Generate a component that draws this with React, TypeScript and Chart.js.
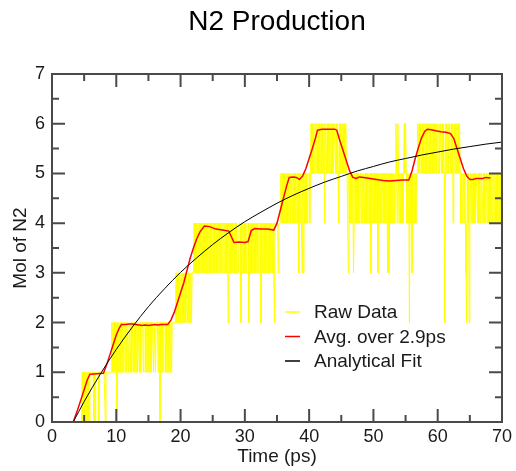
import React, { useEffect, useRef } from 'react';
import { Chart, registerables } from 'chart.js';

Chart.register(...registerables);

// ---------------- data ----------------
const chartTitle = 'N2 Production';
const xAxisTitle = 'Time (ps)';
const yAxisTitle = 'Mol of N2';
const seriesNames = ['Raw Data', 'Avg. over 2.9ps', 'Analytical Fit'];
const seriesColors = ['#ffff00', '#ff0000', '#000000'];

const xMin = 0;
const xMax = 70;
const xStep = 10;
const yMin = 0;
const yMax = 7;
const yStep = 1;

// raw molecule count, one digit per sample, starting at rawStartTime, every rawTimeStep ps
const rawStartTime = 4.0;
const rawTimeStep = 0.1;
const rawLevelRows = [
  '00000001011010110101111110101111101111111110111111', // 4.0 - 8.9
  '11121212122021212121212212122122121221212121221212', // 9.0 - 13.9
  '22122212212122122212212221220221212221212212121222', // 14.0 - 18.9
  '22232323232232322323323232323334343434343434343434', // 19.0 - 23.9
  '43434343434434343434434343443434342434343434343433', // 24.0 - 28.9
  '34442434343434442343434343434343444243434343434343', // 29.0 - 33.9
  '43434324444434445454545454545454554545454545354543', // 34.0 - 38.9
  '53545454555456565656656565656656564665656565656566', // 39.0 - 43.9
  '65656546565656565655535454545345454545455454554545', // 44.0 - 48.9
  '45454535454545455354545455454545353454545454565465', // 49.0 - 53.9
  '45454545656545452545354545455656566565656565656656', // 54.0 - 58.9
  '56565656566565665656526565656656564565656565654545', // 59.0 - 63.9
  '54543254524545454545554545455445454554545454545545', // 64.0 - 68.9
  '45454545454',                                        // 69.0 - 70.0
];

// running average over 2.9 ps
const avgTime = [
  3.3, 4.0, 4.5, 5.0, 5.5, 5.9, 7.0, 8.0, 8.5, 9.0, 9.5, 10.0, 10.5, 10.8,
  11.5, 12.0, 12.5, 13.0, 13.5, 14.0, 14.5, 15.0, 15.5, 16.0, 16.5, 17.0, 17.5, 18.0,
  18.5, 19.0, 19.5, 20.0, 20.5, 21.0, 21.5, 22.0, 22.5, 23.0, 23.7, 24.5, 25.5, 26.5,
  27.5, 28.0, 28.3, 29.0, 30.0, 30.5, 31.0, 31.5, 32.5, 33.5, 34.5, 35.0, 35.5, 36.0,
  36.5, 36.9, 37.5, 38.0, 38.5, 39.0, 39.5, 40.0, 40.5, 41.0, 41.3, 42.0, 43.0, 44.0,
  44.3, 44.8, 45.3, 45.8, 46.3, 46.8, 47.3, 47.8, 48.5, 49.5, 50.5, 51.5, 52.5, 53.5,
  54.5, 55.5, 56.0, 56.5, 57.0, 57.5, 58.0, 58.4, 59.0, 59.7, 60.5, 61.3, 62.0, 62.5,
  63.0, 63.5, 64.0, 64.5, 65.0, 65.5, 66.0, 67.0, 67.5, 68.2,
];
const avgValue = [
  0, 0.25, 0.45, 0.65, 0.85, 0.96, 0.97, 0.98, 1.15, 1.35, 1.55, 1.75, 1.9, 1.96,
  1.96, 1.97, 1.97, 1.96, 1.95, 1.94, 1.95, 1.94, 1.95, 1.96, 1.95, 1.96, 1.96, 1.96,
  2.05, 2.2, 2.4, 2.6, 2.8, 3.05, 3.3, 3.5, 3.68, 3.82, 3.94, 3.93, 3.88, 3.86,
  3.84, 3.7, 3.61, 3.62, 3.61, 3.63, 3.85, 3.89, 3.88, 3.88, 3.86, 4.0, 4.25, 4.5,
  4.75, 4.92, 4.93, 4.92, 4.88, 4.95, 5.1, 5.3, 5.5, 5.72, 5.87, 5.89, 5.89, 5.89,
  5.87, 5.65, 5.45, 5.25, 5.05, 4.92, 4.9, 4.93, 4.92, 4.9, 4.88, 4.86, 4.85, 4.86,
  4.87, 4.87, 5.05, 5.3, 5.52, 5.72, 5.85, 5.89, 5.88, 5.86, 5.84, 5.83, 5.8, 5.7,
  5.5, 5.3, 5.1, 4.95, 4.88, 4.88, 4.9, 4.9, 4.92, 4.91,
];

// analytical fit curve
const fitTime = [
  3.3, 5, 7.5, 10, 12.5, 15, 17.5, 20, 22.5, 25, 27.5, 30, 32.5, 35,
  37.5, 40, 42.5, 45, 47.5, 50, 52.5, 55, 57.5, 60, 62.5, 65, 67.5, 70,
];
const fitValue = [
  0, 0.41, 0.96, 1.46, 1.91, 2.32, 2.68, 3.01, 3.3, 3.57, 3.81, 4.03, 4.22, 4.4,
  4.56, 4.7, 4.83, 4.94, 5.05, 5.14, 5.23, 5.3, 5.37, 5.43, 5.49, 5.54, 5.59, 5.63,
];

// ---------------- build library tables ----------------
const rawDigits = rawLevelRows.join('');
const rawPoints = Array.from(rawDigits).map((d, i) => ({
  x: +(rawStartTime + i * rawTimeStep).toFixed(2),
  y: Number(d),
}));
const avgPoints = avgTime.map((t, i) => ({ x: t, y: avgValue[i] }));
const fitPoints = fitTime.map((t, i) => ({ x: t, y: fitValue[i] }));

const FONT = '"Liberation Sans", Arial, Helvetica, sans-serif';
const AXIS_COLOR = '#4a4a4a';
const TEXT_COLOR = '#1a1a1a';

const framePlugin = {
  id: 'frameTicks',
  afterDatasetsDraw(chart: any) {
    const { ctx, chartArea: a, scales } = chart;
    const xs = scales.x;
    const ys = scales.y;
    ctx.save();
    ctx.strokeStyle = AXIS_COLOR;
    ctx.lineWidth = 2;
    ctx.strokeRect(a.left, a.top, a.right - a.left, a.bottom - a.top);
    const major = 13;
    const minor = 7;
    const xv = xs.ticks.map((t: any) => t.value);
    const yv = ys.ticks.map((t: any) => t.value);
    const drawX = (v: number, len: number) => {
      const p = xs.getPixelForValue(v);
      ctx.beginPath();
      ctx.moveTo(p, a.bottom);
      ctx.lineTo(p, a.bottom - len);
      ctx.moveTo(p, a.top);
      ctx.lineTo(p, a.top + len);
      ctx.stroke();
    };
    const drawY = (v: number, len: number) => {
      const p = ys.getPixelForValue(v);
      ctx.beginPath();
      ctx.moveTo(a.left, p);
      ctx.lineTo(a.left + len, p);
      ctx.moveTo(a.right, p);
      ctx.lineTo(a.right - len, p);
      ctx.stroke();
    };
    xv.forEach((v: number, i: number) => {
      drawX(v, major);
      if (i < xv.length - 1) drawX((v + xv[i + 1]) / 2, minor);
    });
    yv.forEach((v: number, i: number) => {
      drawY(v, major);
      if (i < yv.length - 1) drawY((v + yv[i + 1]) / 2, minor);
    });
    ctx.restore();
  },
};

const titleLegendPlugin = {
  id: 'titleLegend',
  afterDraw(chart: any) {
    const { ctx, chartArea: a } = chart;
    ctx.save();
    // title
    ctx.fillStyle = '#000';
    ctx.font = `28px ${FONT}`;
    ctx.textAlign = 'center';
    ctx.textBaseline = 'middle';
    ctx.fillText(chartTitle, (a.left + a.right) / 2, 22);
    // legend
    ctx.font = `19px ${FONT}`;
    ctx.textAlign = 'left';
    chart.data.datasets.forEach((ds: any, i: number) => {
      const y = a.top + 238 + i * 24.5;
      ctx.strokeStyle = ds.borderColor;
      ctx.lineWidth = 1.5;
      ctx.beginPath();
      ctx.moveTo(a.left + 233, y);
      ctx.lineTo(a.left + 248, y);
      ctx.stroke();
      ctx.fillStyle = TEXT_COLOR;
      ctx.fillText(ds.label, a.left + 262, y + 1);
    });
    ctx.restore();
  },
};

export default function App() {
  const canvasRef = useRef<HTMLCanvasElement>(null);

  useEffect(() => {
    document.body.style.margin = '0';
    const canvas = canvasRef.current;
    if (!canvas) return;
    const chart = new Chart(canvas, {
      type: 'line',
      data: {
        datasets: [
          {
            label: seriesNames[0],
            data: rawPoints,
            borderColor: seriesColors[0],
            backgroundColor: seriesColors[0],
            borderWidth: 1,
            borderJoinStyle: 'bevel',
            pointRadius: 0,
            tension: 0,
            order: 3,
          },
          {
            label: seriesNames[1],
            data: avgPoints,
            borderColor: seriesColors[1],
            backgroundColor: seriesColors[1],
            borderWidth: 1.5,
            pointRadius: 0,
            tension: 0,
            order: 2,
          },
          {
            label: seriesNames[2],
            data: fitPoints,
            borderColor: seriesColors[2],
            backgroundColor: seriesColors[2],
            borderWidth: 1,
            pointRadius: 0,
            cubicInterpolationMode: 'monotone',
            order: 1,
          },
        ],
      },
      options: {
        animation: false,
        responsive: false,
        devicePixelRatio: 1,
        parsing: true,
        layout: { padding: { top: 74, right: 13, bottom: 0, left: 0 } },
        plugins: {
          legend: { display: false },
          title: { display: false },
          tooltip: { enabled: false },
        },
        scales: {
          x: {
            type: 'linear',
            min: xMin,
            max: xMax,
            grid: { display: false, drawTicks: false },
            border: { display: false },
            ticks: {
              stepSize: xStep,
              padding: 4,
              color: TEXT_COLOR,
              font: { family: FONT, size: 18 },
              maxRotation: 0,
            },
            title: {
              display: true,
              text: xAxisTitle,
              color: TEXT_COLOR,
              font: { family: FONT, size: 19 },
              padding: { top: 0, bottom: 2.5 },
            },
            afterFit: (scale: any) => {
              scale.height = 49;
            },
          },
          y: {
            type: 'linear',
            min: yMin,
            max: yMax,
            grid: { display: false, drawTicks: false },
            border: { display: false },
            ticks: {
              stepSize: yStep,
              padding: 7,
              color: TEXT_COLOR,
              font: { family: FONT, size: 18 },
            },
            title: {
              display: true,
              text: yAxisTitle,
              color: TEXT_COLOR,
              font: { family: FONT, size: 19 },
              padding: { top: 9.4, bottom: 0 },
            },
            afterFit: (scale: any) => {
              scale.width = 52;
            },
          },
        },
      },
      plugins: [framePlugin, titleLegendPlugin],
    } as any);
    return () => chart.destroy();
  }, []);

  return (
    <div style={{ width: 516, height: 471 }}>
      <canvas ref={canvasRef} width={516} height={471} style={{ display: 'block' }} />
    </div>
  );
}
